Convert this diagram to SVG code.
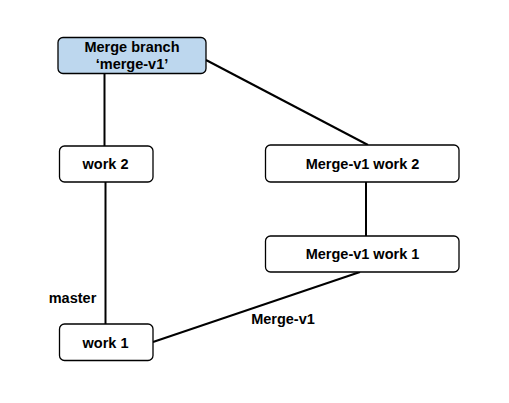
<svg xmlns="http://www.w3.org/2000/svg" width="509" height="403" viewBox="0 0 509 403">
<style>
.node rect{fill:#ffffff;stroke:#000000;stroke-width:1.3}
.node.blue rect{fill:#bdd7ee}
text{font-family:"Liberation Sans",Arial,sans-serif;font-weight:bold;font-size:14.5px;fill:#000;text-anchor:middle}
.conn line{stroke:#000;stroke-width:2}
</style>
<rect width="509" height="403" fill="#ffffff"/>
<g id="connectors" class="conn">
<line x1="104.5" y1="74" x2="104.5" y2="146"/>
<line x1="105.5" y1="182" x2="105.5" y2="324"/>
<line x1="206" y1="60" x2="368" y2="145"/>
<line x1="366" y1="182" x2="366" y2="236"/>
<line x1="153" y1="342" x2="360" y2="272"/>
</g>
<g id="merge-branch" class="node blue">
<rect x="58" y="37.5" width="148" height="36" rx="5"/>
<text x="132" y="52">Merge branch</text>
<text x="132" y="69">‘merge-v1’</text>
</g>
<g id="work2" class="node">
<rect x="59.5" y="146" width="93.5" height="36" rx="5"/>
<text x="105.5" y="169">work 2</text>
</g>
<g id="mv1-work2" class="node">
<rect x="265.5" y="145" width="193.5" height="37" rx="5"/>
<text x="362.5" y="168.5">Merge-v1 work 2</text>
</g>
<g id="mv1-work1" class="node">
<rect x="265.5" y="236" width="193.5" height="36" rx="5"/>
<text x="362.5" y="259">Merge-v1 work 1</text>
</g>
<g id="work1" class="node">
<rect x="59.5" y="324" width="93.5" height="36.5" rx="5"/>
<text x="105.5" y="347.5">work 1</text>
</g>
<text x="72.5" y="303">master</text>
<text x="283" y="323.5">Merge-v1</text>
</svg>
